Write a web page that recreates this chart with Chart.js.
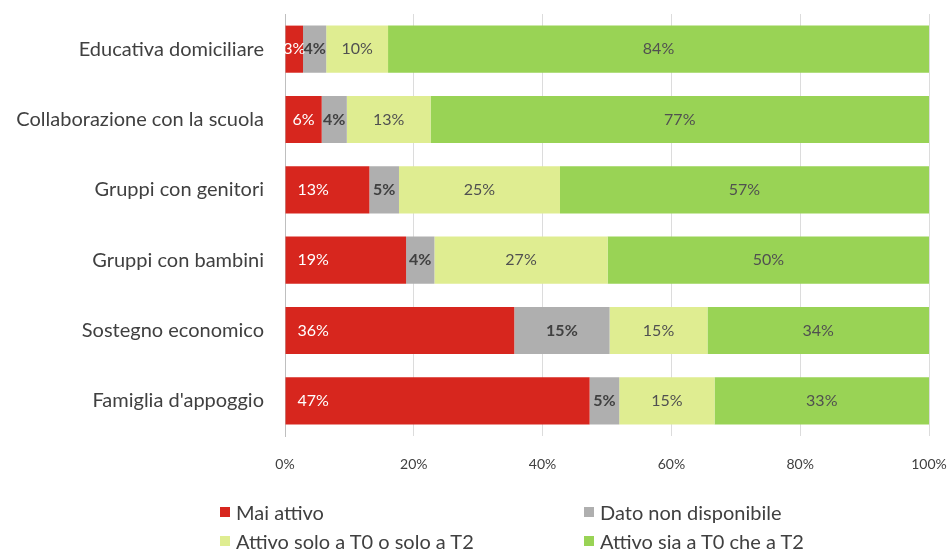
<!DOCTYPE html>
<html lang="it">
<head>
  <meta charset="UTF-8" />
  <title>Interventi attivi</title>
  <script src="https://cdn.jsdelivr.net/npm/chart.js"></script>
  <style>
    body { margin: 0; background: #fff; font-family: Lato, "Open Sans", sans-serif; }
    #wrap { position: relative; width: 949px; height: 552px; }
    #legend { position: absolute; left: 0; top: 0; width: 949px; height: 552px; pointer-events: none; }
    .item { position: absolute; display: flex; align-items: center; font-size: 20px; color: #404040; white-space: nowrap; line-height: 22px; }
    .box { width: 10px; height: 10px; margin-right: 6px; }
  </style>
</head>
<body>
  <div id="wrap">
    <canvas id="chart" width="949" height="552"></canvas>
    <div id="legend"></div>
  </div>

  <script>
    // categories and series (percent of cases)
    const categories = [
      'Educativa domiciliare',
      'Collaborazione con la scuola',
      'Gruppi con genitori',
      'Gruppi con bambini',
      'Sostegno economico',
      "Famiglia d'appoggio"
    ];
    const maiAttivo   = [2.8, 5.7, 13.1, 18.8, 35.6, 47.3];
    const nonDisp     = [3.6, 3.9, 4.6, 4.4, 14.8, 4.6];
    const soloT0oT2   = [9.6, 13.0, 25.0, 26.9, 15.2, 14.8];
    const siaT0cheT2  = [84.0, 77.4, 57.3, 49.9, 34.4, 33.3];
    const xTicks      = [0, 20, 40, 60, 80, 100];

    const series = [
      { label: 'Mai attivo', data: maiAttivo, color: '#d7261e', text: '#ffffff', weight: 'normal', base: true },
      { label: 'Dato non disponibile', data: nonDisp, color: '#afafaf', text: '#404040', weight: 'bold' },
      { label: 'Attivo solo a T0 o solo a T2', data: soloT0oT2, color: '#dfed91', text: '#505050', weight: 'normal' },
      { label: 'Attivo sia a T0 che a T2', data: siaT0cheT2, color: '#99d355', text: '#505050', weight: 'normal' }
    ];

    // draws the percentage inside each segment
    const segmentLabels = {
      id: 'segmentLabels',
      afterDatasetsDraw(chart) {
        const ctx = chart.ctx;
        ctx.save();
        ctx.textBaseline = 'middle';
        chart.data.datasets.forEach((ds, i) => {
          const s = series[i];
          ctx.font = s.weight + ' 16px Lato, sans-serif';
          ctx.fillStyle = s.text;
          chart.getDatasetMeta(i).data.forEach((bar, j) => {
            const txt = Math.round(ds.data[j]) + '%';
            const left = Math.min(bar.base, bar.x);
            const w = Math.abs(bar.x - bar.base);
            const tw = ctx.measureText(txt).width;
            if (s.base && w > tw + 24) {
              ctx.textAlign = 'left';
              ctx.fillText(txt, left + 12, bar.y);
            } else {
              ctx.textAlign = 'center';
              ctx.fillText(txt, left + w / 2, bar.y);
            }
          });
        });
        ctx.restore();
      }
    };

    new Chart(document.getElementById('chart'), {
      type: 'bar',
      data: {
        labels: categories,
        datasets: series.map(s => ({
          label: s.label,
          data: s.data,
          backgroundColor: s.color,
          borderWidth: 0,
          barPercentage: 0.67,
          categoryPercentage: 1
        }))
      },
      options: {
        indexAxis: 'y',
        responsive: false,
        animation: false,
        layout: { padding: { top: 14, right: 20, bottom: 0, left: 0 } },
        plugins: { legend: { display: false }, tooltip: { enabled: false } },
        scales: {
          x: {
            stacked: true,
            min: 0,
            max: 100,
            afterBuildTicks(scale) { scale.ticks = xTicks.map(v => ({ value: v })); },
            afterFit(scale) {
              scale.height = 116;
              scale.paddingLeft = 0;
              scale.paddingRight = 0;
            },
            ticks: {
              padding: 20,
              color: '#404040',
              font: { family: 'Lato, sans-serif', size: 14 },
              callback: v => v + '%'
            },
            grid: { color: '#dcdcdc', drawTicks: false },
            border: { display: false }
          },
          y: {
            stacked: true,
            afterFit(scale) {
              scale.width = 285;
              scale.paddingTop = 0;
              scale.paddingBottom = 0;
            },
            ticks: {
              padding: 21,
              color: '#404040',
              font: { family: 'Lato, sans-serif', size: 20 }
            },
            grid: { display: false, drawTicks: false },
            border: { color: '#bfbfbf', width: 1 }
          }
        }
      },
      plugins: [segmentLabels]
    });

    // legend: two columns, two rows
    const legendPos = [[220, 512], [584, 512], [220, 541], [584, 541]];
    const legend = document.getElementById('legend');
    series.forEach((s, i) => {
      const d = document.createElement('div');
      d.className = 'item';
      d.style.left = legendPos[i][0] + 'px';
      d.style.top = (legendPos[i][1] - 11) + 'px';
      d.innerHTML = '<span class="box" style="background:' + s.color + '"></span>' + s.label;
      legend.appendChild(d);
    });
  </script>
</body>
</html>
